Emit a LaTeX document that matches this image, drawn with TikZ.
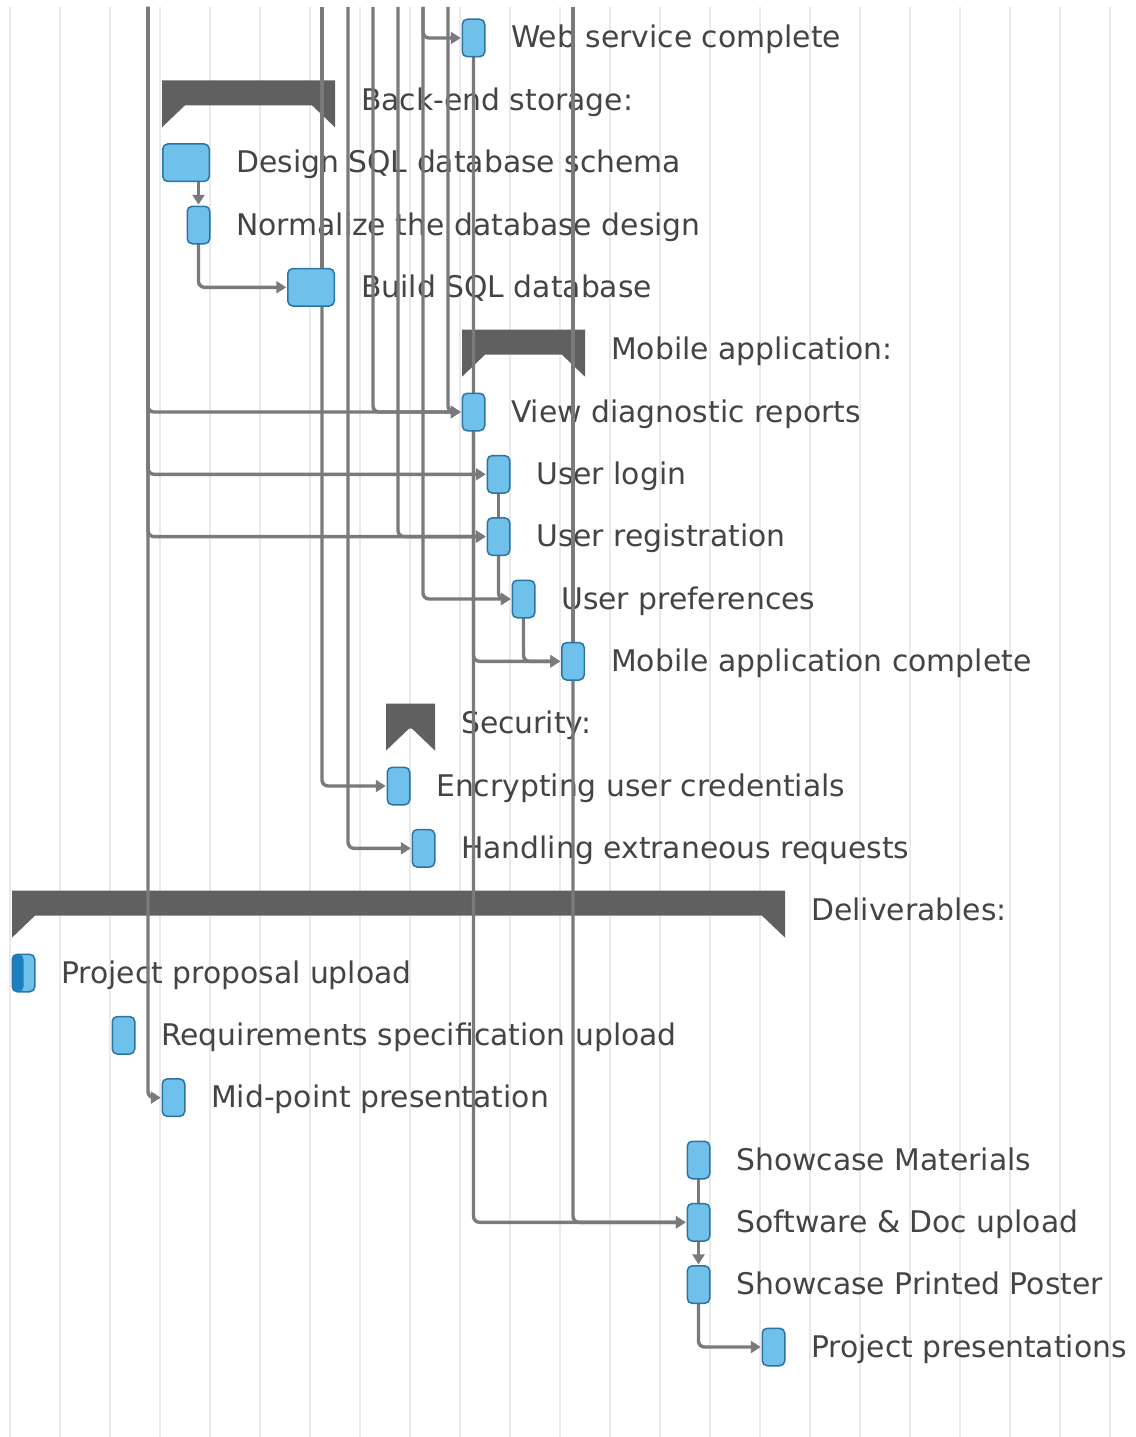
\documentclass[tikz,border=0pt]{standalone}
\usepackage{fontspec}
\setmainfont{DejaVu Sans}
\usetikzlibrary{arrows.meta}

\definecolor{gridc}{HTML}{EAEAEA}
\definecolor{taskfill}{HTML}{6FC0EA}
\definecolor{taskline}{HTML}{2A74A4}
\definecolor{progressc}{HTML}{1A80C2}
\definecolor{barc}{HTML}{606060}
\definecolor{depc}{HTML}{7A7A7A}
\definecolor{textc}{HTML}{444444}

\pgfdeclarelayer{gridlayer}
\pgfdeclarelayer{textlayer}
\pgfdeclarelayer{connlayer}
\pgfsetlayers{gridlayer,textlayer,connlayer,main}

% summary bar of a task group: left x, right x, row y
\newcommand\summarybar[3]{%
  \fill[barc] (#1,#3-20) -- (#2,#3-20) -- (#2,#3+27) -- (#2-23,#3+5)
    -- (#1+23,#3+5) -- (#1,#3+27) -- cycle;}

\tikzset{
  task/.style={draw=taskline, fill=taskfill, line width=1.5pt,
    rounded corners=5pt, minimum height=37.5pt, minimum width=22.5pt,
    inner sep=0pt, outer sep=0pt},
  widetask/.style={task, minimum width=46.5pt},
  lbl/.style={anchor=base west, inner sep=0pt, text=textc,
    font=\fontsize{29.8}{34}\selectfont},
  dep/.style={draw=depc, line width=3.4pt, rounded corners=6pt},
  deparrow/.style={dep, -{Triangle[length=10pt,width=12pt]}, shorten >=1.5pt},
}

\begin{document}
\begin{tikzpicture}[x=1pt,y=-1pt]
\useasboundingbox (0,0) rectangle (1135,1437);

% time grid
\begin{pgfonlayer}{gridlayer}
  \fill[white] (0,0) rectangle (1135,1437);
  \foreach \gx in {10,60,...,1110}
    \draw[gridc, line width=1.5pt] (\gx,7) -- (\gx,1437);
\end{pgfonlayer}

% labels and group bars
\begin{pgfonlayer}{textlayer}
  \summarybar{162}{335}{100.3}
  \summarybar{462}{585}{349.7}
  \summarybar{386}{435}{723.6}
  \summarybar{12}{785}{910.6}

  \node[lbl] (l-ws)   at (511,48)     {Web service complete};
  \node[lbl] (l-be)   at (361,110.3)  {Back-end storage:};
  \node[lbl] (l-des)  at (236,172.7)  {Design SQL database schema};
  \node[lbl] (l-norm) at (236,235)    {Normalize the database design};
  \node[lbl] (l-bld)  at (361,297.3)  {Build SQL database};
  \node[lbl] (l-mob)  at (611,359.7)  {Mobile application:};
  \node[lbl] (l-view) at (511,422)    {View diagnostic reports};
  \node[lbl] (l-log)  at (536,484.3)  {User login};
  \node[lbl] (l-reg)  at (536,546.6)  {User registration};
  \node[lbl] (l-pref) at (561,609)    {User preferences};
  \node[lbl] (l-mobc) at (611,671.3)  {Mobile application complete};
  \node[lbl] (l-sec)  at (461,733.6)  {Security:};
  \node[lbl] (l-enc)  at (436,796)    {Encrypting user credentials};
  \node[lbl] (l-hand) at (461,858.3)  {Handling extraneous requests};
  \node[lbl] (l-del)  at (811,920.6)  {Deliverables:};
  \node[lbl] (l-prop) at (61,983)     {Project proposal upload};
  \node[lbl] (l-req)  at (161,1045.3) {Requirements specification upload};
  \node[lbl] (l-mid)  at (211,1107.6) {Mid-point presentation};
  \node[lbl] (l-smat) at (736,1170)   {Showcase Materials};
  \node[lbl] (l-soft) at (736,1232.3) {Software \& Doc upload};
  \node[lbl] (l-post) at (736,1294.6) {Showcase Printed Poster};
  \node[lbl] (l-pres) at (811,1357)   {Project presentations};
\end{pgfonlayer}

% tasks
\node[task]     (ws)   at (473.5,38)     {};
\node[widetask] (des)  at (186,162.7)    {};
\node[task]     (norm) at (198.5,225)    {};
\node[widetask] (bld)  at (311,287.3)    {};
\node[task]     (view) at (473.5,412)    {};
\node[task]     (log)  at (498.5,474.3)  {};
\node[task]     (reg)  at (498.5,536.6)  {};
\node[task]     (pref) at (523.5,599)    {};
\node[task]     (mobc) at (573,661.3)    {};
\node[task]     (enc)  at (398.5,786)    {};
\node[task]     (hand) at (423.5,848.3)  {};
\node[task, path picture={\fill[progressc]
    (path picture bounding box.south west) rectangle
    (path picture bounding box.north);}]
                (prop) at (23.5,973)     {};
\node[task]     (req)  at (123.5,1035.3) {};
\node[task]     (mid)  at (173.5,1097.6) {};
\node[task]     (smat) at (698.5,1160)   {};
\node[task]     (soft) at (698.5,1222.3) {};
\node[task]     (post) at (698.5,1284.6) {};
\node[task]     (pres) at (773.5,1347)   {};

% entry points of dependencies coming from above
\coordinate (t148) at (148,7);
\coordinate (t322) at (322,7);
\coordinate (t348) at (348,7);
\coordinate (t373) at (373,7);
\coordinate (t398) at (398,7);
\coordinate (t423) at (423,7);
\coordinate (t448) at (448,7);
\coordinate (t573) at (573,7);

% dependencies
\begin{pgfonlayer}{connlayer}
  \draw[deparrow] (t148) |- (view.west);
  \draw[deparrow] (t148) |- (log.west);
  \draw[deparrow] (t148) |- (reg.west);
  \draw[deparrow] (t148) |- (mid.west);
  \draw[dep]      (t322) -- (t322 |- bld.north);
  \draw[deparrow] (t322 |- bld.south) |- (enc.west);
  \draw[deparrow] (t348) |- (hand.west);
  \draw[deparrow] (t373) |- (view.west);
  \draw[deparrow] (t398) |- (reg.west);
  \draw[deparrow] (t423) |- (ws.west);
  \draw[deparrow] (t423) |- (pref.west);
  \draw[deparrow] (t448) |- (view.west);
  \draw[dep]      (t573) -- (mobc.north);
  \draw[deparrow] (ws.south) |- (soft.west);
  \draw[deparrow] (view.south) |- (mobc.west);
  \draw[deparrow] (mobc.south) |- (soft.west);
  \draw[deparrow] (norm.north |- des.south) -- (norm.north);
  \draw[deparrow] (norm.south) |- (bld.west);
  \draw[dep]      (log.south) -- (reg.north);
  \draw[deparrow] (reg.south) |- (pref.west);
  \draw[deparrow] (pref.south) |- (mobc.west);
  \draw[dep]      (smat.south) -- (soft.north);
  \draw[deparrow] (soft.south) -- (post.north);
  \draw[deparrow] (post.south) |- (pres.west);
\end{pgfonlayer}
\end{tikzpicture}
\end{document}
